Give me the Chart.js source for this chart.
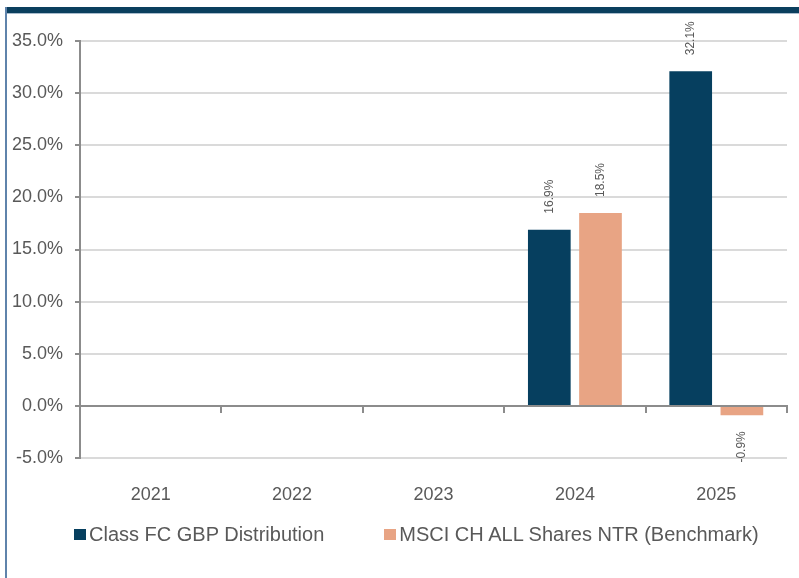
<!DOCTYPE html>
<html>
<head>
<meta charset="utf-8">
<script src="https://cdn.jsdelivr.net/npm/chart.js@4.4.1/dist/chart.umd.min.js"></script>
<style>
    body { margin: 0; background: #fff; }
    #wrap { position: relative; width: 799px; height: 578px; overflow: hidden; font-family: "Liberation Sans", Arial, sans-serif; }
    #barra_topo { position: absolute; left: 5px; top: 7px; width: 794px; height: 6px; background: #0b3f5e; border-bottom: 1px solid #a9bccd; }
    #linha_esq { position: absolute; left: 5px; top: 7px; width: 2px; height: 571px; background: #5f83ab; }
    canvas { position: absolute; left: 0; top: 0; }
    #legenda { position: absolute; left: 74px; top: 523px; display: flex; align-items: center; font-size: 20px; color: #595959; white-space: nowrap; }
    .item_legenda { display: flex; align-items: center; }
    .caixa_legenda { width: 12px; height: 11px; margin-right: 3px; }
</style>
</head>
<body>
<div id="wrap">
    <div id="barra_topo"></div>
    <div id="linha_esq"></div>
    <canvas id="graficoRetornos" width="799" height="578"></canvas>
    <div id="legenda"></div>
</div>
<script>
const anos = ['2021', '2022', '2023', '2024', '2025'];
const classeFC = [null, null, null, 16.9, 32.1];
const benchmark = [null, null, null, 18.5, -0.9];
const nomeClasse = 'Class FC GBP Distribution';
const nomeBenchmark = 'MSCI CH ALL Shares NTR (Benchmark)';
const yMin = -5;
const yMax = 35;
const yPasso = 5;

const corTexto = '#595959';
const corEixo = '#8c8c8c';
const corGrade = '#dadada';

// escreve os valores na vertical em cima (ou embaixo) de cada barra
const rotulosBarras = {
    id: 'rotulosBarras',
    afterDatasetsDraw(chart) {
        const ctx = chart.ctx;
        ctx.save();
        ctx.font = '12px "Liberation Sans", Arial, sans-serif';
        ctx.fillStyle = corTexto;
        ctx.textBaseline = 'middle';
        chart.data.datasets.forEach((ds, i) => {
            const meta = chart.getDatasetMeta(i);
            meta.data.forEach((bar, j) => {
                const v = ds.data[j];
                if (v === null || v === undefined) return;
                const texto = v.toFixed(1) + '%';
                ctx.save();
                if (v >= 0) {
                    ctx.translate(bar.x, bar.y - 16);
                    ctx.rotate(-Math.PI / 2);
                    ctx.textAlign = 'left';
                } else {
                    ctx.translate(bar.x, bar.y + 16);
                    ctx.rotate(-Math.PI / 2);
                    ctx.textAlign = 'right';
                }
                ctx.fillText(texto, 0, 0);
                ctx.restore();
            });
        });
        ctx.restore();
    }
};

const ctx = document.getElementById('graficoRetornos').getContext('2d');

const grafico = new Chart(ctx, {
    type: 'bar',
    data: {
        labels: anos,
        datasets: [
            {
                label: nomeClasse,
                data: classeFC,
                backgroundColor: '#063f5f',
                categoryPercentage: 0.724,
                barPercentage: 0.834
            },
            {
                label: nomeBenchmark,
                data: benchmark,
                backgroundColor: '#e8a484',
                categoryPercentage: 0.724,
                barPercentage: 0.834
            }
        ]
    },
    options: {
        responsive: false,
        devicePixelRatio: 1,
        animation: false,
        layout: {
            padding: { top: 41, left: 0, right: 12, bottom: 62 }
        },
        plugins: {
            tooltip: { enabled: false },
            legend: { display: false }
        },
        scales: {
            y: {
                min: yMin,
                max: yMax,
                afterFit: (escala) => { escala.width = 80; },
                ticks: {
                    stepSize: yPasso,
                    padding: 12,
                    color: corTexto,
                    font: { family: '"Liberation Sans", Arial, sans-serif', size: 18 },
                    callback: (v) => v.toFixed(1) + '%'
                },
                grid: {
                    color: corGrade,
                    lineWidth: 2,
                    tickColor: corEixo,
                    tickLength: 5
                },
                border: { color: corEixo, width: 2 }
            },
            x: {
                type: 'category',
                position: { y: 0 },
                offset: true,
                ticks: { display: false },
                grid: {
                    offset: true,
                    drawOnChartArea: false,
                    tickColor: corEixo,
                    tickLength: 6,
                    lineWidth: 2
                },
                border: { color: corEixo, width: 2 }
            },
            x2: {
                type: 'category',
                position: 'bottom',
                offset: true,
                afterFit: (escala) => { escala.height = 58; },
                grid: { display: false },
                border: { display: false },
                ticks: {
                    padding: 18,
                    color: corTexto,
                    font: { family: '"Liberation Sans", Arial, sans-serif', size: 18 }
                }
            }
        }
    },
    plugins: [rotulosBarras]
});

// legenda em html, montada a partir dos datasets
const legenda = document.getElementById('legenda');
grafico.data.datasets.forEach((ds, i) => {
    const item = document.createElement('div');
    item.className = 'item_legenda';
    if (i > 0) item.style.marginLeft = '60px';
    const caixa = document.createElement('span');
    caixa.className = 'caixa_legenda';
    caixa.style.background = ds.backgroundColor;
    const texto = document.createElement('span');
    texto.textContent = ds.label;
    item.appendChild(caixa);
    item.appendChild(texto);
    legenda.appendChild(item);
});
</script>
</body>
</html>
